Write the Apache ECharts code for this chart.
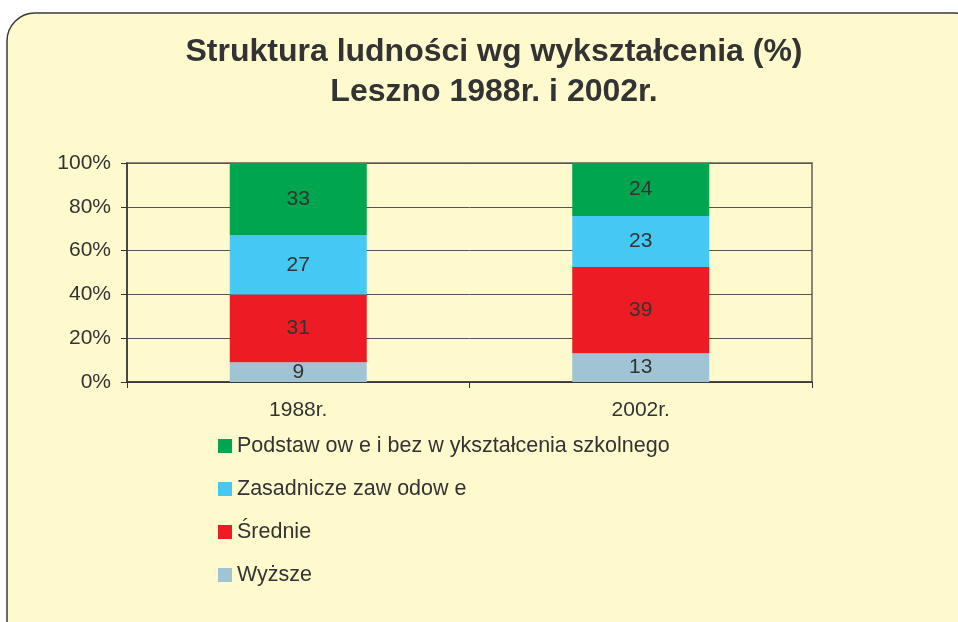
<!DOCTYPE html>
<html>
<head>
<meta charset="utf-8">
<script src="https://cdn.jsdelivr.net/npm/echarts@6/dist/echarts.min.js"></script>
<style>
  html, body { margin: 0; padding: 0; background: #fff; }
  #chart { width: 958px; height: 622px; }
</style>
</head>
<body>
<div id="chart"></div>
<script>
var years = ['1988r.', '2002r.'];
var wyzsze = [9, 13];
var srednie = [31, 39];
var zasadnicze = [27, 23];
var podstawowe = [33, 24];
var yTicks = [0, 20, 40, 60, 80, 100];

var names = {
    podst: 'Podstaw ow e i bez w ykształcenia szkolnego',
    zas: 'Zasadnicze zaw odow e',
    sred: 'Średnie',
    wyz: 'Wyższe'
};

// 100% stacked: each column scaled to its own total
var totals = years.map(function (y, i) {
    return wyzsze[i] + srednie[i] + zasadnicze[i] + podstawowe[i];
});
function pct(arr) {
    return arr.map(function (v, i) {
        return { value: v / totals[i] * 100, raw: v };
    });
}

var font = 'Liberation Sans, Arial, sans-serif';

function makeSeries(name, arr, color) {
    return {
        name: name,
        type: 'bar',
        stack: 'all',
        barWidth: '40%',
        data: pct(arr),
        itemStyle: { color: color },
        label: {
            show: true,
            position: 'inside',
            color: '#333',
            fontSize: 21,
            fontFamily: font,
            formatter: function (p) { return p.data.raw; }
        }
    };
}

var myChart = echarts.init(document.getElementById('chart'));

var option = {
    backgroundColor: '#fff',
    graphic: [{
        type: 'rect',
        z: -10,
        shape: { x: 7, y: 13, width: 975, height: 640, r: 28 },
        style: { fill: '#fffacd', stroke: '#3a3a3a', lineWidth: 1.5 }
    }],
    title: {
        text: 'Struktura ludności wg wykształcenia (%)\nLeszno 1988r. i 2002r.',
        left: 489,
        textAlign: 'center',
        top: 27,
        textStyle: {
            fontFamily: font,
            fontSize: 32,
            fontWeight: 'bold',
            color: '#333',
            lineHeight: 40
        }
    },
    legend: {
        orient: 'vertical',
        left: 213,
        top: 430,
        itemWidth: 14,
        itemHeight: 14,
        itemGap: 21,
        icon: 'rect',
        data: [names.podst, names.zas, names.sred, names.wyz],
        textStyle: { fontFamily: font, fontSize: 21.5, lineHeight: 22, color: '#333' }
    },
    grid: {
        left: 127,
        right: 146,
        top: 163,
        bottom: 240,
        show: true,
        borderColor: '#8c8577',
        borderWidth: 2,
        containLabel: false
    },
    xAxis: {
        type: 'category',
        data: years,
        axisLine: { lineStyle: { color: '#333', width: 1.5 } },
        axisTick: { show: true, length: 6, lineStyle: { color: '#333' } },
        axisLabel: { fontFamily: font, fontSize: 21, color: '#333', margin: 18 }
    },
    yAxis: {
        type: 'value',
        min: yTicks[0],
        max: yTicks[yTicks.length - 1],
        interval: yTicks[1] - yTicks[0],
        axisLine: { show: true, lineStyle: { color: '#333', width: 1.5 } },
        axisTick: { show: true, length: 6, lineStyle: { color: '#333' } },
        axisLabel: { fontFamily: font, fontSize: 21, color: '#333', margin: 16, formatter: '{value}%' },
        splitLine: { lineStyle: { color: '#555', width: 1 } }
    },
    series: [
        makeSeries(names.wyz, wyzsze, '#a0c4d4'),
        makeSeries(names.sred, srednie, '#ed1c24'),
        makeSeries(names.zas, zasadnicze, '#45c8f3'),
        makeSeries(names.podst, podstawowe, '#00a54f')
    ]
};

myChart.setOption(option, true);
</script>
</body>
</html>
